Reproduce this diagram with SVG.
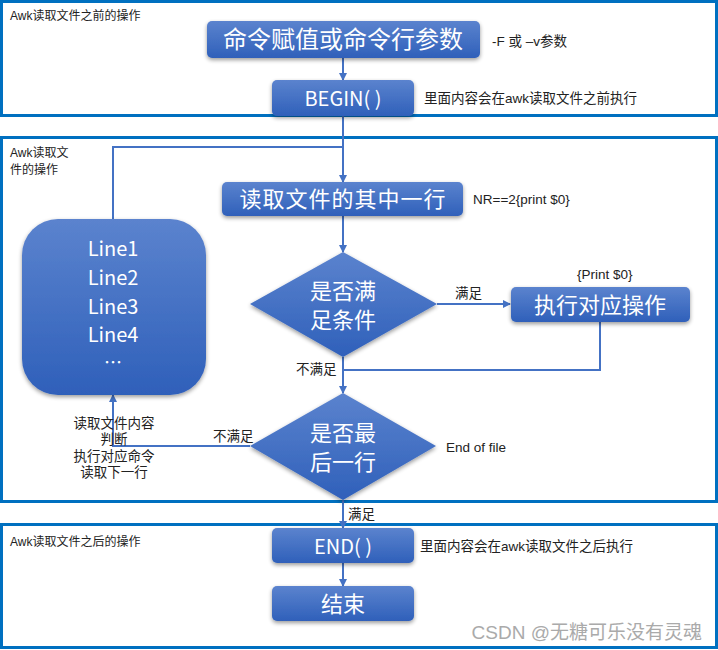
<svg xmlns="http://www.w3.org/2000/svg" width="718" height="650" viewBox="0 0 718 650">
<defs>
<linearGradient id="g" x1="0" y1="0" x2="0" y2="1">
<stop offset="0" stop-color="#5B83CE"/>
<stop offset="1" stop-color="#2F60BA"/>
</linearGradient>
<filter id="sh" x="-10%" y="-10%" width="120%" height="130%">
<feGaussianBlur in="SourceAlpha" stdDeviation="2"/>
<feOffset dx="0" dy="2" result="b"/>
<feComponentTransfer><feFuncA type="linear" slope="0.4"/></feComponentTransfer>
<feMerge><feMergeNode/><feMergeNode in="SourceGraphic"/></feMerge>
</filter>
<marker id="a" markerWidth="8" markerHeight="8" refX="7" refY="4" orient="auto" markerUnits="userSpaceOnUse">
<path d="M0,0 L8,4 L0,8 Z" fill="#4472C4"/>
</marker>
</defs>
<style>
.frame{fill:none;stroke:#0070C0;stroke-width:3}
.box{fill:url(#g);filter:url(#sh)}
.wt{fill:#fff;font-family:"Noto Sans CJK SC","Liberation Sans",sans-serif;text-anchor:middle}
.lb{fill:#222;font-family:"Liberation Sans","Noto Sans CJK SC",sans-serif;font-size:12px}
.nt{fill:#222;font-family:"Liberation Sans","Noto Sans CJK SC",sans-serif;font-size:13.5px}
.c{fill:none;stroke:#4472C4;stroke-width:2}
</style>
<rect width="718" height="650" fill="#fff"/>
<g id="frames">
<rect class="frame" x="1.5" y="1.5" width="715" height="114"/>
<rect class="frame" x="1.5" y="137.5" width="715" height="364"/>
<rect class="frame" x="1.5" y="524.5" width="715" height="123"/>
<text class="lb" x="10" y="20">Awk读取文件之前的操作</text>
<text class="lb" x="10" y="157">Awk读取文</text>
<text class="lb" x="10" y="174">件的操作</text>
<text class="lb" x="10" y="546">Awk读取文件之后的操作</text>
</g>
<g id="connectors">
<path class="c" d="M343,58 V80" marker-end="url(#a)"/>
<path class="c" d="M343,116 V182" marker-end="url(#a)"/>
<path class="c" d="M113,219 V147 H343"/>
<path class="c" d="M343,216 V252" marker-end="url(#a)"/>
<path class="c" d="M437,304 H510" marker-end="url(#a)"/>
<path class="c" d="M600,322 V370 H343"/>
<path class="c" d="M343,357 V393" marker-end="url(#a)"/>
<path class="c" d="M250,446 H113 V395" marker-end="url(#a)"/>
<path class="c" d="M343,500 V528" marker-end="url(#a)"/>
<path class="c" d="M343,563 V586" marker-end="url(#a)"/>
<text class="nt" x="455" y="298">满足</text>
<text class="nt" x="296" y="374">不满足</text>
<text class="nt" x="213" y="441">不满足</text>
<text class="nt" x="348" y="519">满足</text>
<text class="nt" x="114" y="428" text-anchor="middle">读取文件内容</text>
<text class="nt" x="114" y="444" text-anchor="middle">判断</text>
<text class="nt" x="114" y="461" text-anchor="middle">执行对应命令</text>
<text class="nt" x="114" y="477" text-anchor="middle">读取下一行</text>
</g>
<g id="n1">
<rect class="box" x="207" y="21" width="273" height="37" rx="5"/>
<text class="wt" x="343" y="48" font-size="24">命令赋值或命令行参数</text>
<text class="nt" x="492" y="46">-F 或 –v参数</text>
</g>
<g id="n2">
<rect class="box" x="272" y="80" width="142" height="36" rx="5"/>
<text class="wt" x="343" y="106" font-size="20" font-family="Liberation Sans">BEGIN( )</text>
<text class="nt" x="424" y="103">里面内容会在awk读取文件之前执行</text>
</g>
<g id="n3">
<rect class="box" x="222" y="182" width="241" height="34" rx="5"/>
<text class="wt" x="343" y="207" font-size="22" letter-spacing="1">读取文件的其中一行</text>
<text class="nt" x="473" y="204">NR==2{print $0}</text>
</g>
<g id="lines">
<rect class="box" x="22" y="219" width="184" height="176" rx="36"/>
<g class="wt" font-size="20" font-family="Liberation Sans">
<text x="113" y="256">Line1</text>
<text x="113" y="285">Line2</text>
<text x="113" y="314">Line3</text>
<text x="113" y="342">Line4</text>
<text x="113" y="369" font-size="18">…</text>
</g>
</g>
<g id="d1">
<path class="box" d="M343,252 L437,304 L343,357 L250,304 Z"/>
<text class="wt" x="343" y="299" font-size="22">是否满</text>
<text class="wt" x="343" y="328" font-size="22">足条件</text>
</g>
<g id="n4">
<rect class="box" x="511" y="287" width="179" height="35" rx="5"/>
<text class="wt" x="600" y="313" font-size="22">执行对应操作</text>
<text class="nt" x="577" y="279">{Print $0}</text>
</g>
<g id="d2">
<path class="box" d="M343,393 L436,446 L343,500 L250,446 Z"/>
<text class="wt" x="343" y="441" font-size="22">是否最</text>
<text class="wt" x="343" y="470" font-size="22">后一行</text>
<text class="nt" x="446" y="452">End of file</text>
</g>
<g id="n5">
<rect class="box" x="272" y="528" width="142" height="35" rx="5"/>
<text class="wt" x="343" y="554" font-size="20" font-family="Liberation Sans">END( )</text>
<text class="nt" x="420" y="551">里面内容会在awk读取文件之后执行</text>
</g>
<g id="n6">
<rect class="box" x="272" y="586" width="142" height="35" rx="5"/>
<text class="wt" x="343" y="612" font-size="22">结束</text>
</g>
<text x="702" y="639" text-anchor="end" font-family="Liberation Sans,Noto Sans CJK SC,sans-serif" font-size="19" fill="#aaa">CSDN @无糖可乐没有灵魂</text>
</svg>
